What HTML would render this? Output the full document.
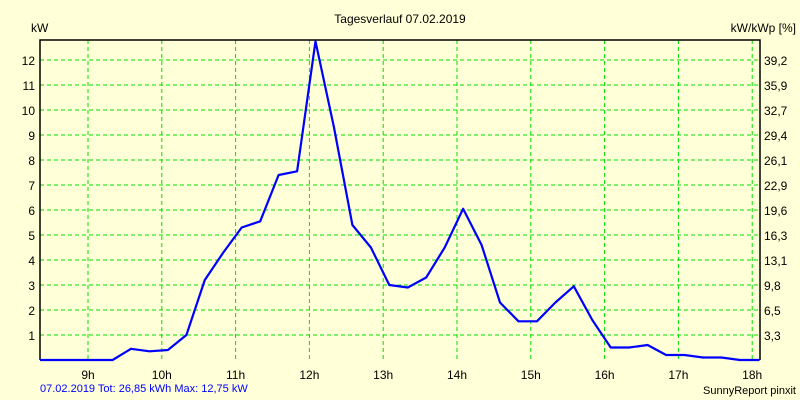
<!DOCTYPE html>
<html><head><meta charset="utf-8"><style>
html,body{margin:0;padding:0;background:#ffffd8;}
svg{display:block;font-family:"Liberation Sans",sans-serif;}
</style></head><body>
<svg id="chart" width="800" height="400" viewBox="0 0 800 400">
<rect x="0" y="0" width="800" height="400" fill="#ffffd8"/>
<text x="400" y="23" font-size="12" text-anchor="middle">Tagesverlauf 07.02.2019</text>
<text x="31" y="32" font-size="12">kW</text>
<text x="796" y="32" font-size="12" text-anchor="end">kW/kWp [%]</text>
<text x="40" y="392" font-size="11" fill="#0000ff">07.02.2019 Tot: 26,85 kWh Max: 12,75 kW</text>
<text x="796" y="394" font-size="11" text-anchor="end">SunnyReport pinxit</text>
<g id="grid"></g><g id="axes"></g><g id="series"></g>
</svg>
<script>
const hourTicks=[9,10,11,12,13,14,15,16,17,18];
const leftTicks=[1,2,3,4,5,6,7,8,9,10,11,12];
const rightLabels=["3,3","6,5","9,8","13,1","16,3","19,6","22,9","26,1","29,4","32,7","35,9","39,2"];
const times=[8.35,9.333,9.583,9.833,10.083,10.333,10.583,10.833,11.083,11.333,11.583,11.833,12.083,12.333,12.583,12.833,13.083,13.333,13.583,13.833,14.083,14.333,14.583,14.833,15.083,15.333,15.583,15.833,16.083,16.333,16.583,16.833,17.083,17.333,17.583,17.833,18.1];
const power=[0,0,0.45,0.35,0.4,1.0,3.2,4.3,5.3,5.55,7.4,7.55,12.75,9.3,5.4,4.5,3.0,2.9,3.3,4.5,6.05,4.6,2.3,1.55,1.55,2.3,2.95,1.6,0.5,0.5,0.6,0.2,0.2,0.1,0.1,0,0];
const NS="http://www.w3.org/2000/svg";
const L=40,R=760,T=40,B=360;
const xs=h=>88+73.8*(h-9);
const ys=v=>360-25*v;
function mk(tag,attrs,parent){const e=document.createElementNS(NS,tag);for(const k in attrs)e.setAttribute(k,attrs[k]);parent.appendChild(e);return e;}
const grid=document.getElementById('grid'),axes=document.getElementById('axes'),series=document.getElementById('series');
hourTicks.forEach(h=>{
 const x=xs(h);
 const g=mk('line',{x1:x,x2:x,y1:T,y2:B,stroke:'#00e000','stroke-dasharray':'4,3'},grid);
 
 
 const t=mk('text',{x:x,y:379,'font-size':12,'text-anchor':'middle'},axes);
 t.textContent=h+'h';
 
 
});
leftTicks.forEach((v,i)=>{
 const y=ys(v);
 const g=mk('line',{x1:L,x2:R,y1:y,y2:y,stroke:'#00e000','stroke-dasharray':'4,3'},grid);
 
 
 const t=mk('text',{x:35,y:y+5,'font-size':12,'text-anchor':'end'},axes);
 t.textContent=v;
 
 
 const r=mk('text',{x:764,y:y+5,'font-size':12},axes);
 r.textContent=rightLabels[i];
 
 
});
const a1=mk('polyline',{points:`${L},${B} ${L},${T} ${R},${T} ${R},${B}`,fill:'none',stroke:'#000','stroke-width':1.5},axes);


const pts=times.map((t,i)=>xs(t).toFixed(1)+','+ys(power[i]).toFixed(1)).join(' ');
const line=mk('polyline',{points:pts,fill:'none',stroke:'#0000ff','stroke-width':2.2,'stroke-linejoin':'round'},series);


</script>
</body></html>
